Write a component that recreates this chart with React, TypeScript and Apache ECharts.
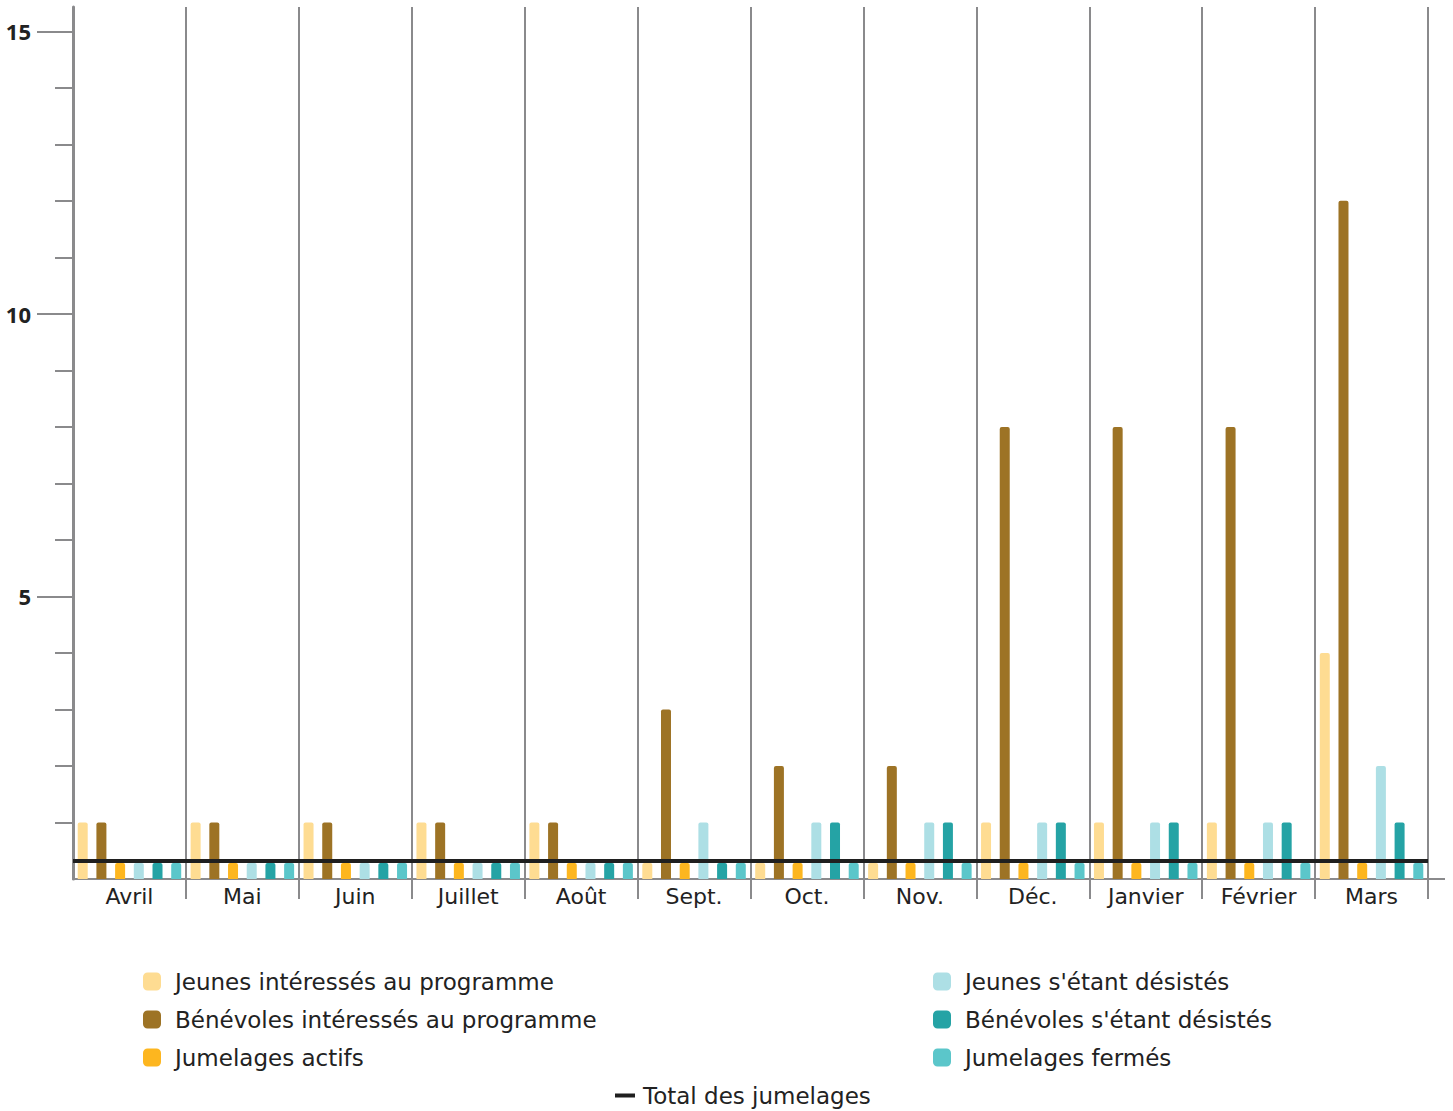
import React, { useEffect, useRef } from 'react';
import * as echarts from 'echarts';

const months = ['Avril', 'Mai', 'Juin', 'Juillet', 'Août', 'Sept.', 'Oct.', 'Nov.', 'Déc.', 'Janvier', 'Février', 'Mars'];
const jeunesInteresses = [1, 1, 1, 1, 1, 0, 0, 0, 1, 1, 1, 4];
const benevolesInteresses = [1, 1, 1, 1, 1, 3, 2, 2, 8, 8, 8, 12];
const jumelagesActifs = [0, 0, 0, 0, 0, 0, 0, 0, 0, 0, 0, 0];
const jeunesDesistes = [0, 0, 0, 0, 0, 1, 1, 1, 1, 1, 1, 2];
const benevolesDesistes = [0, 0, 0, 0, 0, 0, 1, 1, 1, 1, 1, 1];
const jumelagesFermes = [0, 0, 0, 0, 0, 0, 0, 0, 0, 0, 0, 0];
const totalJumelages = [0, 0, 0, 0, 0, 0, 0, 0, 0, 0, 0, 0];

const yMinorTicks = [1, 2, 3, 4, 6, 7, 8, 9, 11, 12, 13, 14];
const yMajorTicks = [5, 10, 15];

const barSeriesDefs = [
  { name: 'Jeunes intéressés au programme', data: jeunesInteresses, color: '#FEDC92' },
  { name: 'Bénévoles intéressés au programme', data: benevolesInteresses, color: '#9D7325' },
  { name: 'Jumelages actifs', data: jumelagesActifs, color: '#FDB61F' },
  { name: "Jeunes s'étant désistés", data: jeunesDesistes, color: '#ADDFE5' },
  { name: "Bénévoles s'étant désistés", data: benevolesDesistes, color: '#25A3A5' },
  { name: 'Jumelages fermés', data: jumelagesFermes, color: '#5BC6CA' },
];
const lineName = 'Total des jumelages';

const FONT = 'DejaVu Sans';
const NUM_FONT = 'Noto Sans';
const GRAY = '#8a8a8c';
const TEXT = '#222222';

export default function App() {
  const ref = useRef<HTMLDivElement>(null);
  useEffect(() => {
    if (!ref.current) return;
    const chart = echarts.init(ref.current, null, { renderer: 'svg' });
    const legendText = { fontSize: 23, lineHeight: 22, color: TEXT, fontFamily: FONT, padding: [0, 0, 0, 9] };
    chart.setOption({
      animation: false,
      textStyle: { fontFamily: FONT },
      grid: { left: 73, right: 25, top: 7, bottom: 232, containLabel: false },
      xAxis: [
        {
          type: 'category',
          data: months,
          boundaryGap: true,
          axisLine: { show: true, lineStyle: { color: GRAY, width: 2 } },
          axisTick: {
            show: true,
            interval: (index: number) => index !== 0,
            length: 20,
            lineStyle: { color: GRAY, width: 2 },
          },
          axisLabel: { interval: 0, fontSize: 22, color: TEXT, fontFamily: FONT, margin: 6 },
          splitLine: { show: true, interval: 0, lineStyle: { color: GRAY, width: 2 } },
        },
      ],
      yAxis: [
        {
          type: 'value',
          min: 0,
          max: 15.43,
          position: 'left',
          axisLine: { show: true, lineStyle: { color: GRAY, width: 3 } },
          axisTick: { show: true, customValues: yMinorTicks, length: 18, lineStyle: { color: GRAY, width: 2 } },
          axisLabel: { show: false },
          splitLine: { show: false },
        },
        {
          type: 'value',
          min: 0,
          max: 15.43,
          position: 'left',
          axisLine: { show: false },
          axisTick: { show: true, customValues: yMajorTicks, length: 36, lineStyle: { color: GRAY, width: 2 } },
          axisLabel: {
            show: true,
            customValues: yMajorTicks,
            fontSize: 22,
            fontWeight: 'bold',
            color: TEXT,
            fontFamily: NUM_FONT,
            margin: 42,
          },
          splitLine: { show: false },
        },
        {
          type: 'value',
          min: -0.32,
          max: 15.11,
          show: false,
        },
      ],
      legend: [
        {
          left: 143,
          top: 970,
          orient: 'vertical',
          padding: 0,
          itemWidth: 18,
          itemHeight: 18,
          itemGap: 15,
          icon: 'roundRect',
          textStyle: legendText,
          data: barSeriesDefs.slice(0, 3).map((s) => s.name),
        },
        {
          left: 933,
          top: 970,
          orient: 'vertical',
          padding: 0,
          itemWidth: 18,
          itemHeight: 18,
          itemGap: 15,
          icon: 'roundRect',
          textStyle: legendText,
          data: barSeriesDefs.slice(3).map((s) => s.name),
        },
        {
          left: 615,
          top: 1084,
          orient: 'horizontal',
          padding: 0,
          itemWidth: 20,
          itemHeight: 4,
          textStyle: { ...legendText, padding: [0, 0, 0, 3] },
          data: [{ name: lineName, icon: 'rect' }],
        },
      ],
      graphic: [
        {
          type: 'line',
          shape: { x1: 1428, y1: 879, x2: 1445, y2: 879 },
          style: { stroke: GRAY, lineWidth: 2 },
        },
      ],
      series: [
        ...barSeriesDefs.map((s) => ({
          name: s.name,
          type: 'bar',
          xAxisIndex: 0,
          yAxisIndex: 0,
          data: s.data,
          barWidth: 10,
          barGap: '87%',
          barMinHeight: 16,
          itemStyle: { color: s.color, borderRadius: [2, 2, 0, 0] },
          z: 2,
        })),
        {
          name: lineName,
          type: 'line',
          xAxisIndex: 0,
          yAxisIndex: 2,
          data: totalJumelages,
          symbol: 'none',
          itemStyle: { color: '#1f1f1f' },
          lineStyle: { color: '#1f1f1f', width: 4 },
          z: 5,
          markLine: {
            silent: true,
            symbol: ['none', 'none'],
            label: { show: false },
            lineStyle: { color: '#1f1f1f', width: 4, type: 'solid' },
            data: [{ yAxis: 0 }],
          },
        },
      ],
    });
    return () => chart.dispose();
  }, []);
  return (
    <div
      ref={ref}
      style={{ position: 'fixed', left: 0, top: 0, width: 1453, height: 1111, background: '#ffffff' }}
    />
  );
}
